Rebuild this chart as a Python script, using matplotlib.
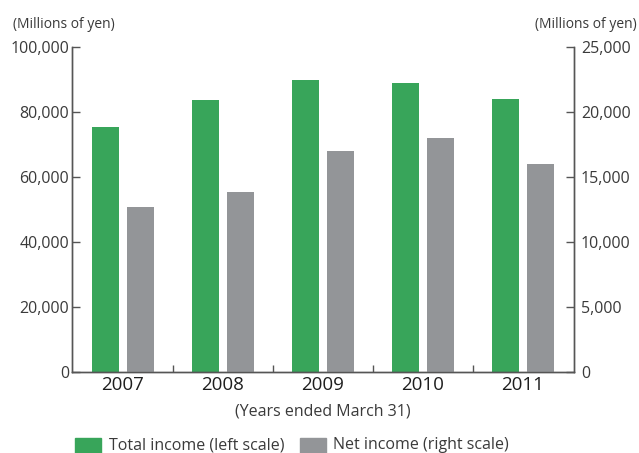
import numpy as np
import matplotlib
matplotlib.use("Agg")
import matplotlib.pyplot as plt
from matplotlib.ticker import FuncFormatter

plt.rcParams["font.family"] = ["Open Sans", "DejaVu Sans"]

# -----------------------------
# Data (millions of yen)
# -----------------------------
years = ["2007", "2008", "2009", "2010", "2011"]
total_income = [75300, 83600, 89700, 88800, 83900]   # left scale
net_income = [12670, 13820, 16980, 17980, 15980]     # right scale

green = "#38a55a"
gray = "#939598"
axis_col = "#555555"
text_col = "#3a3a3a"

x = np.arange(len(years))
w = 0.27
off = 0.175

fig = plt.figure(figsize=(6.39, 4.53), dpi=100)
ax = fig.add_axes([72 / 639, 81 / 453, 502 / 639, 325 / 453])
ax2 = ax.twinx()

ax.bar(x - off, total_income, width=w, color=green, zorder=2)
ax2.bar(x + off, net_income, width=w, color=gray, zorder=2)

ax.set_xlim(-0.51, 4.51)
ax.set_ylim(0, 100000)
ax2.set_ylim(0, 25000)

fmt = FuncFormatter(lambda v, p: f"{int(v):,}")
ax.set_yticks(np.arange(0, 100001, 20000))
ax2.set_yticks(np.arange(0, 25001, 5000))
ax.yaxis.set_major_formatter(fmt)
ax2.yaxis.set_major_formatter(fmt)

for a in (ax, ax2):
    a.spines["top"].set_visible(False)
    for s in ("left", "right", "bottom"):
        a.spines[s].set_color(axis_col)
        a.spines[s].set_linewidth(1.0)

ax.tick_params(axis="y", direction="in", length=6, width=1.0, color=axis_col,
               labelsize=11.5, labelcolor=text_col, pad=2)
ax2.tick_params(axis="y", direction="in", length=6, width=1.0, color=axis_col,
                labelsize=11.5, labelcolor=text_col, pad=5)

ax.set_xticks(x)
ax.set_xticklabels(years, fontsize=13.5, color="#1e1e1e", fontweight="medium")
ax.set_xticks(x[:-1] + 0.5, minor=True)
ax.tick_params(axis="x", which="major", length=0, pad=3)
ax.tick_params(axis="x", which="minor", direction="in", length=5, width=1.0,
               color=axis_col)

# -----------------------------
# Labels
# -----------------------------
fig.text(13 / 639, 1 - 24 / 453, "(Millions of yen)", fontsize=10,
         color=text_col, ha="left", va="center")
fig.text(637 / 639, 1 - 24 / 453, "(Millions of yen)", fontsize=10,
         color=text_col, ha="right", va="center")
fig.text(323 / 639, 1 - 411 / 453, "(Years ended March 31)", fontsize=11.5,
         color=text_col, ha="center", va="center")

# -----------------------------
# Legend
# -----------------------------
fig.patches.append(plt.Rectangle((75 / 639, 0.0), 26 / 639, 15 / 453,
                                 transform=fig.transFigure, color=green))
fig.text(109 / 639, 1 - 449 / 453, "Total income (left scale)", fontsize=11.5,
         color=text_col, ha="left", va="baseline")
fig.patches.append(plt.Rectangle((300 / 639, 0.0), 26 / 639, 15 / 453,
                                 transform=fig.transFigure, color=gray))
fig.text(333 / 639, 1 - 449 / 453, "Net income (right scale)", fontsize=11.5,
         color=text_col, ha="left", va="baseline")

fig.savefig("out.png", dpi=100)
